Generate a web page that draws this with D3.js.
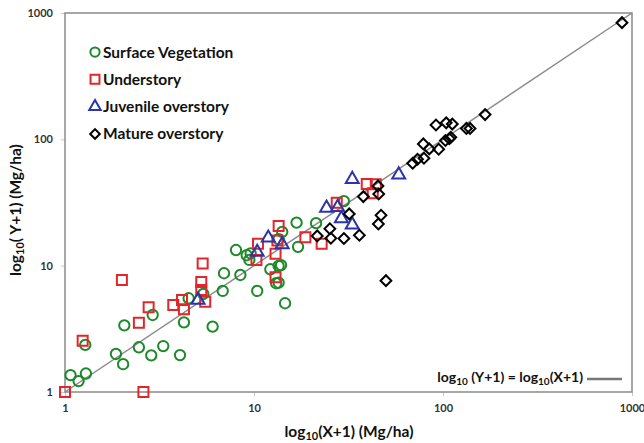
<!DOCTYPE html>
<html>
<head>
<meta charset="utf-8">
<script src="https://cdn.jsdelivr.net/npm/d3@7"></script>
<style>
  body { margin: 0; background: #fff; }
  text { font-family: Lato, "Open Sans", sans-serif; font-weight: bold; }
</style>
</head>
<body>
<svg width="644" height="443"></svg>
<script>
// values, as (X+1, Y+1) in Mg/ha
var surfaceX = [1.07, 1.18, 1.29, 1.28, 1.86, 2.03, 2.06, 2.46, 2.91, 2.86, 3.31, 4.06, 4.26, 4.51, 5.39, 6.04, 6.83, 6.94, 8.47, 8.03, 9.15, 9.6, 9.45, 10.4, 12.2, 13.5, 13.9, 13.1, 13.5, 14.6, 13.5, 14.1, 17.1, 16.8, 21.3, 29.9];
var surfaceY = [1.36, 1.22, 1.40, 2.36, 2.0, 1.66, 3.37, 2.26, 4.07, 1.95, 2.31, 1.96, 3.56, 5.52, 5.97, 3.29, 6.31, 8.71, 8.44, 13.3, 12.1, 12.5, 11.1, 6.31, 9.36, 9.95, 10.1, 7.26, 7.33, 5.04, 16.2, 18.5, 14.1, 21.9, 21.7, 32.4];

var underX = [1.0, 2.6, 1.24, 2.0, 2.46, 2.77, 3.74, 4.16, 4.26, 5.26, 5.35, 5.26, 5.52, 10.3, 10.5, 13.0, 13.3, 13.0, 13.5, 18.7, 22.8, 27.4, 39.5, 44.1, 42.5];
var underY = [1.0, 1.0, 2.55, 7.7, 3.54, 4.68, 4.89, 5.35, 4.52, 7.43, 10.4, 6.42, 5.19, 11.1, 14.9, 12.4, 15.8, 8.09, 20.6, 16.8, 14.9, 31.5, 44.4, 44.1, 37.4];

var juvX = [5.06, 10.4, 11.9, 14.1, 24.2, 27.7, 29.0, 33.1, 33.1, 58.3];
var juvY = [5.35, 12.8, 16.6, 14.7, 28.6, 29.0, 23.6, 21.1, 48.3, 52.5];

var matureX = [21.6, 25.5, 25.2, 29.9, 31.9, 36.1, 37.9, 45.3, 45.7, 47.0, 45.5, 49.9, 69.1, 73.3, 79.3, 78.7, 84.6, 94.9, 103, 108, 110, 91.8, 104, 112, 133, 139, 167, 885];
var matureY = [17.2, 16.5, 19.6, 16.4, 25.7, 17.4, 35.2, 42.8, 36.9, 25.1, 21.4, 7.61, 64.7, 69.5, 70.8, 92, 84, 83.5, 98, 101, 104, 130, 135, 132, 122, 122, 157, 839];

var seriesNames = ["Surface Vegetation", "Understory", "Juvenile overstory", "Mature overstory"];
var tickValues = [1, 10, 100, 1000];

var svg = d3.select("svg");
var plotLeft = 65, plotRight = 632, plotTop = 13, plotBottom = 392;

var x = d3.scaleLog().domain([1, 1000]).range([plotLeft, plotRight]);
var y = d3.scaleLog().domain([1, 1000]).range([plotBottom, plotTop]);

// axes
var xAxis = svg.append("g").attr("transform", "translate(0," + plotBottom + ")")
  .call(d3.axisBottom(x).tickValues(tickValues).tickFormat(d3.format("d")).tickSize(4).tickPadding(8));
var yAxis = svg.append("g").attr("transform", "translate(" + plotLeft + ",0)")
  .call(d3.axisLeft(y).tickValues(tickValues).tickFormat(d3.format("d")).tickSize(4).tickPadding(8));
[xAxis, yAxis].forEach(function(a) {
  a.select(".domain").remove();
  a.selectAll(".tick line").attr("stroke", "#c8c8c8");
  a.selectAll(".tick text").attr("fill", "#333").style("font-size", "11px");
});

// frame
svg.append("rect")
  .attr("x", plotLeft).attr("y", plotTop)
  .attr("width", plotRight - plotLeft).attr("height", plotBottom - plotTop)
  .attr("fill", "none").attr("stroke", "#8a8a8a").attr("stroke-width", 1.5);

// 1:1 line
svg.append("line")
  .attr("x1", x(1)).attr("y1", y(1)).attr("x2", x(1000)).attr("y2", y(1000))
  .attr("stroke", "#8a8a8a").attr("stroke-width", 1.5);

// markers
var styles = [
  {type: d3.symbolCircle, size: 84, color: "#1d8a2a", rot: 0},
  {type: d3.symbolSquare, size: 100, color: "#e3262b", rot: 0},
  {type: d3.symbolTriangle, size: 72, color: "#2b35a8", rot: 0},
  {type: d3.symbolSquare, size: 58, color: "#000", rot: 45}
];
var xs = [surfaceX, underX, juvX, matureX];
var ys = [surfaceY, underY, juvY, matureY];

xs.forEach(function(arr, s) {
  var st = styles[s];
  var sym = d3.symbol().type(st.type).size(st.size);
  svg.append("g").selectAll("path")
    .data(arr).enter()
    .append("path")
    .attr("d", sym)
    .attr("transform", function(d, i) {
      return "translate(" + x(d) + "," + y(ys[s][i]) + ") rotate(" + st.rot + ")";
    })
    .attr("fill", "none")
    .attr("stroke", st.color)
    .attr("stroke-width", 2);
});

// legend
var legend = svg.append("g");
seriesNames.forEach(function(name, i) {
  var st = styles[i];
  var ly = 52 + i * 27.3;
  legend.append("path")
    .attr("d", d3.symbol().type(st.type).size(st.size * 0.8))
    .attr("transform", "translate(95," + ly + ") rotate(" + st.rot + ")")
    .attr("fill", "none").attr("stroke", st.color).attr("stroke-width", 2);
  legend.append("text")
    .attr("x", 103).attr("y", ly + 5.5)
    .style("font-size", "15.5px").attr("fill", "#111")
    .text(name);
});

// 1:1 label
var eq = svg.append("text").attr("x", 583).attr("y", 382)
  .attr("text-anchor", "end").style("font-size", "14px").attr("fill", "#111");
eq.append("tspan").text("log");
eq.append("tspan").attr("dy", 3).style("font-size", "10px").text("10");
eq.append("tspan").attr("dy", -3).text(" (Y+1) = log");
eq.append("tspan").attr("dy", 3).style("font-size", "10px").text("10");
eq.append("tspan").attr("dy", -3).text("(X+1)");
svg.append("line").attr("x1", 587).attr("x2", 622).attr("y1", 379).attr("y2", 379)
  .attr("stroke", "#777").attr("stroke-width", 2.5);

// axis titles
var xt = svg.append("text").attr("x", 349).attr("y", 437)
  .attr("text-anchor", "middle").style("font-size", "15.5px").attr("fill", "#111");
xt.append("tspan").text("log");
xt.append("tspan").attr("dy", 3).style("font-size", "11px").text("10");
xt.append("tspan").attr("dy", -3).text("(X+1) (Mg/ha)");

var yt = svg.append("text").attr("transform", "translate(21,210) rotate(-90)")
  .attr("text-anchor", "middle").style("font-size", "15.5px").attr("fill", "#111");
yt.append("tspan").text("log");
yt.append("tspan").attr("dy", 3).style("font-size", "11px").text("10");
yt.append("tspan").attr("dy", -3).text("( Y+1) (Mg/ha)");
</script>
</body>
</html>
